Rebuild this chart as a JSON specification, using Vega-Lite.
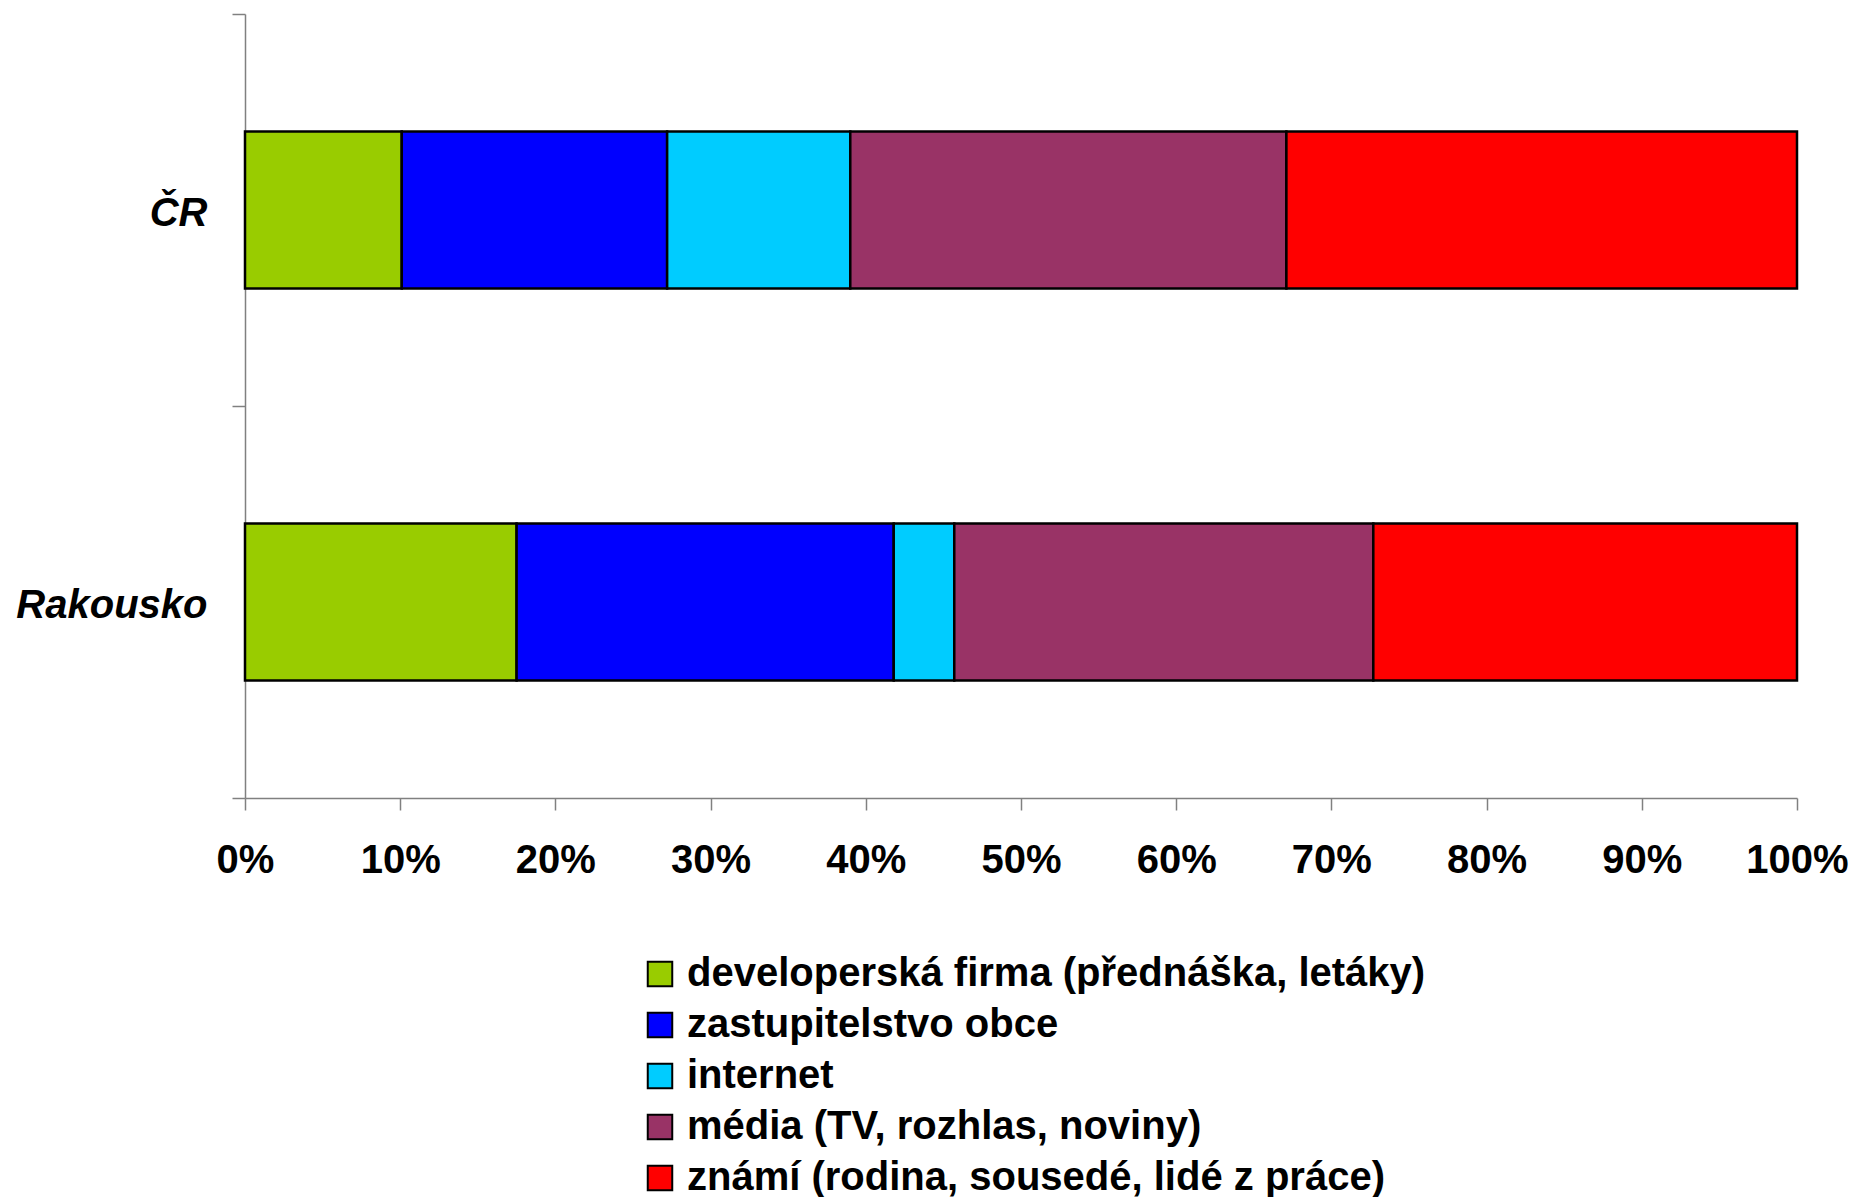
{
  "$schema": "https://vega.github.io/schema/vega-lite/v6.json",
  "width": 1552,
  "height": 784,
  "autosize": {"type": "none"},
  "padding": {"left": 245, "top": 14, "right": 57, "bottom": 399},
  "background": "white",
  "data": {
    "values": [
      {"region": "ČR", "source": "developerská firma (přednáška, letáky)", "idx": 1, "value": 10.1},
      {"region": "ČR", "source": "zastupitelstvo obce", "idx": 2, "value": 17.1},
      {"region": "ČR", "source": "internet", "idx": 3, "value": 11.8},
      {"region": "ČR", "source": "média (TV, rozhlas, noviny)", "idx": 4, "value": 28.1},
      {"region": "ČR", "source": "známí (rodina, sousedé, lidé z práce)", "idx": 5, "value": 32.9},
      {"region": "Rakousko", "source": "developerská firma (přednáška, letáky)", "idx": 1, "value": 17.5},
      {"region": "Rakousko", "source": "zastupitelstvo obce", "idx": 2, "value": 24.3},
      {"region": "Rakousko", "source": "internet", "idx": 3, "value": 3.9},
      {"region": "Rakousko", "source": "média (TV, rozhlas, noviny)", "idx": 4, "value": 27.0},
      {"region": "Rakousko", "source": "známí (rodina, sousedé, lidé z práce)", "idx": 5, "value": 27.3}
    ]
  },
  "mark": {"type": "bar", "stroke": "black", "strokeWidth": 2.5, "height": {"band": 0.4}},
  "encoding": {
    "y": {
      "field": "region",
      "type": "nominal",
      "sort": ["ČR", "Rakousko"],
      "scale": {"paddingInner": 0, "paddingOuter": 0},
      "axis": {
        "title": null,
        "domainColor": "#808080",
        "domainWidth": 1.5,
        "tickColor": "#808080",
        "tickWidth": 1.5,
        "tickBand": "extent",
        "tickSize": 13,
        "labelFontSize": 40,
        "labelFont": "Liberation Sans",
        "labelFontWeight": "bold",
        "labelFontStyle": "italic",
        "labelColor": "black",
        "labelLimit": 400,
        "labelPadding": 25,
        "labelOffset": 3
      }
    },
    "x": {
      "field": "value",
      "type": "quantitative",
      "stack": "zero",
      "scale": {"domain": [0, 100], "nice": false},
      "axis": {
        "title": null,
        "grid": false,
        "values": [0, 10, 20, 30, 40, 50, 60, 70, 80, 90, 100],
        "labelExpr": "datum.value + '%'",
        "tickSize": 12,
        "labelPadding": 30,
        "labelFontSize": 40,
        "labelFont": "Liberation Sans",
        "labelFontWeight": "bold",
        "labelColor": "black",
        "labelFlush": false,
        "labelOverlap": false,
        "domainColor": "#808080",
        "domainWidth": 1.5,
        "tickColor": "#808080",
        "tickWidth": 1.5
      }
    },
    "color": {
      "field": "source",
      "type": "nominal",
      "scale": {
        "domain": [
          "developerská firma (přednáška, letáky)",
          "zastupitelstvo obce",
          "internet",
          "média (TV, rozhlas, noviny)",
          "známí (rodina, sousedé, lidé z práce)"
        ],
        "range": ["#99CC00", "#0000FF", "#00CCFF", "#993366", "#FF0000"]
      },
      "legend": {
        "title": null,
        "orient": "none",
        "legendX": 395,
        "legendY": 940,
        "padding": 0,
        "symbolType": "square",
        "symbolSize": 600,
        "symbolStrokeColor": "black",
        "symbolStrokeWidth": 2,
        "symbolOpacity": 1,
        "labelFontSize": 40,
        "labelFont": "Liberation Sans",
        "labelFontWeight": "bold",
        "labelColor": "black",
        "labelLimit": 1200,
        "labelOffset": 7,
        "rowPadding": 11
      }
    },
    "order": {"field": "idx", "type": "quantitative"}
  },
  "config": {"view": {"stroke": null}}
}
